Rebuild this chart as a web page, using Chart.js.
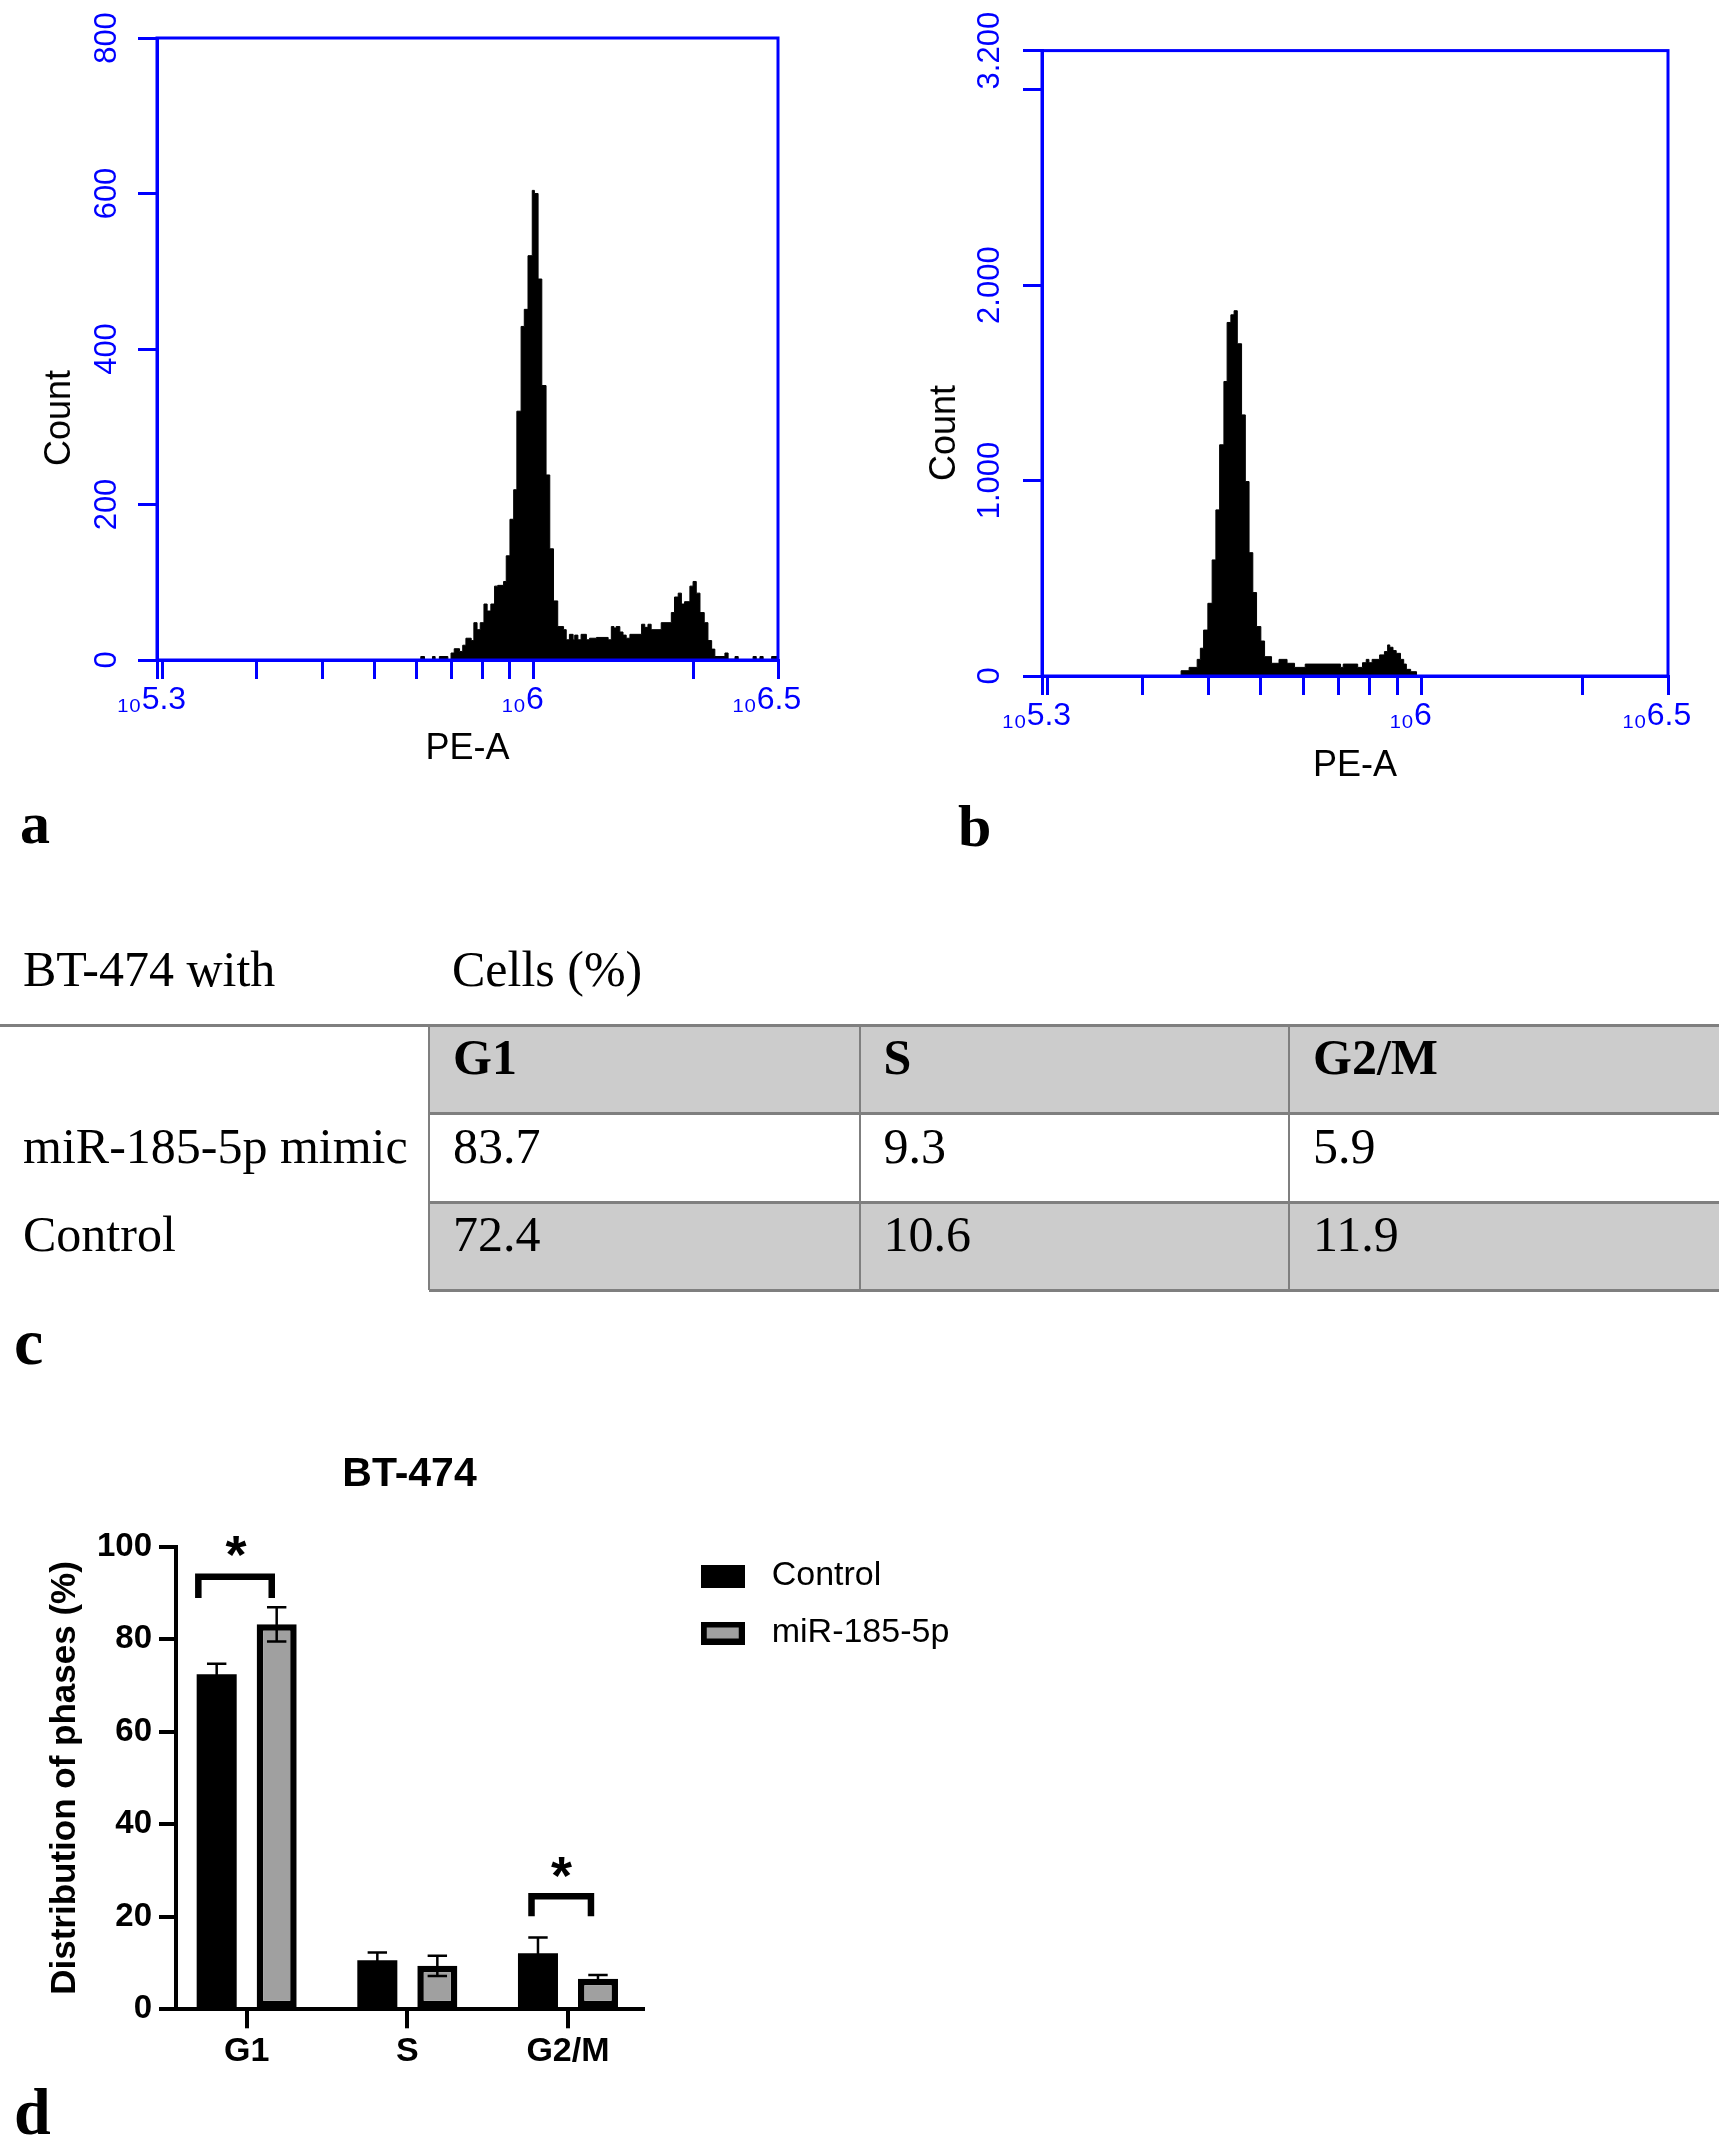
<!DOCTYPE html>
<html>
<head>
<meta charset="utf-8">
<script src="https://cdn.jsdelivr.net/npm/chart.js@4.4.1/dist/chart.umd.min.js"></script>
<style>
html,body{margin:0;padding:0;background:#fff;}
body{position:relative;width:1719px;height:2149px;overflow:hidden;font-family:'Liberation Sans',Arial,sans-serif;}
canvas{position:absolute;}
.t{position:absolute;white-space:nowrap;color:#000;}
.serif{font-family:'Liberation Serif','Times New Roman',serif;}
</style>
</head>
<body>
<canvas id="histA" width="860" height="800" style="left:0px;top:0px;width:860px;height:800px"></canvas>
<canvas id="histB" width="839" height="800" style="left:880px;top:0px;width:839px;height:800px"></canvas>
<canvas id="bars" width="1000" height="660" style="left:0px;top:1420px;width:1000px;height:660px"></canvas>
<div id="overlay"></div>
<script>
// ---------------- DATA ----------------
// Panel a: histogram, bin left edges in log10(PE-A) and counts
const histAEdges = [5.290,5.787,5.794,5.809,5.814,5.822,5.838,5.844,5.850,5.860,5.866,5.872,5.882,5.887,5.893,5.899,5.906,5.912,5.919,5.926,5.932,5.943,5.948,5.955,5.962,5.968,5.976,5.982,5.989,5.997,6.001,6.008,6.015,6.023,6.030,6.037,6.045,6.056,6.061,6.067,6.074,6.077,6.083,6.089,6.099,6.105,6.118,6.140,6.146,6.151,6.155,6.162,6.168,6.174,6.181,6.203,6.209,6.215,6.221,6.240,6.259,6.265,6.272,6.278,6.284,6.294,6.300,6.306,6.313,6.321,6.328,6.335,6.341,6.360,6.366,6.379,6.385,6.413,6.419,6.426,6.432,6.448,6.460];
const histACounts = [0,4.5,0,4.5,0,4.5,0,9,14.5,11,19,28,25,48,39,48,72,63,72,95,96,101,134,181,219,320,429,451,520,604,600,490,353,238,143,76,43,39,26,33,26,32,26,33,26,28,29,26,43,41,43,36,32,28,33,46,42,46,39,48,61,81,86,72,75,95,101,86,61,48,25,14,4.5,9,1,4.5,0,4.5,1,4.5,0,4.5,0];
// Panel b: histogram
const histBEdges = [5.290,5.550,5.565,5.580,5.586,5.592,5.600,5.608,5.615,5.622,5.630,5.636,5.643,5.649,5.655,5.663,5.670,5.677,5.684,5.691,5.699,5.706,5.719,5.733,5.748,5.762,5.782,5.848,5.853,5.880,5.889,5.896,5.901,5.907,5.921,5.930,5.936,5.940,5.946,5.952,5.960,5.966,5.971,5.979,5.990,6.460];
const histBCounts = [0,27,44,85,142,235,372,594,850,1183,1507,1809,1848,1869,1700,1336,995,631,427,253,179,99,65,85,65,44,61,44,61,44,68,85,68,85,108,125,159,147,130,116,85,61,34,22,0,0];
// Histogram axes
const histXTicks = [5.29,5.301,5.477,5.602,5.699,5.778,5.845,5.903,5.954,6.0,6.301,6.46];
const histXTickLabels = ['','\u2081\u20805.3','','','','','','','','\u2081\u20806','','\u2081\u20806.5'];
const histAYTicks = [0,200,400,600,800];
const histAYTickLabels = ['0','200','400','600','800'];
const histBYTicks = [0,1000,2000,3000,3200];
const histBYTickLabels = ['0','1.000','2.000','','3.200'];
// Panel c: table
const phases = ['G1','S','G2/M'];
const tableGroups = ['miR-185-5p mimic','Control'];
const tableMimic = ['83.7','9.3','5.9'];
const tableControl = ['72.4','10.6','11.9'];
// Panel d: bar chart
const seriesNames = ['Control','miR-185-5p'];
const controlMeans = [72.4,10.6,12.1];
const controlErr = [2.3,1.7,3.4];
const mirMeans = [83.2,9.4,6.6];
const mirErr = [3.7,2.2,0.8];
const barYTicks = [0,20,40,60,80,100];
// significance brackets (data units: x = category index, y = %)
const sigX1 = [-0.301,1.773];
const sigX2 = [0.156,2.143];
const sigY = [93.5,24.45];
const sigLegY = [88.9,20.1];
const sigStarX = [-0.067,1.960];
const sigStarY = [99.95,30.7];

// ---------------- SETUP ----------------
Chart.defaults.font.family = "'Liberation Sans', Arial, sans-serif";
Chart.defaults.color = '#000';
const BLUE = '#0000ff';

const framePlugin = {
  id:'frame',
  afterDatasetsDraw(chart, args, o){
    const {ctx, chartArea:a} = chart;
    ctx.save(); ctx.strokeStyle = o.color; ctx.lineWidth = o.width;
    ctx.strokeRect(a.left, a.top, a.right - a.left, a.bottom - a.top);
    ctx.restore();
  }
};
const rotYPlugin = {
  id:'rotY',
  afterDraw(chart, args, o){
    const s = chart.scales.y, ctx = chart.ctx;
    ctx.save(); ctx.fillStyle = o.color; ctx.font = o.font;
    ctx.textAlign = 'center'; ctx.textBaseline = 'middle';
    s.ticks.forEach((t, i) => {
      const lbl = o.labels[i]; if (!lbl) return;
      const y = s.getPixelForValue(t.value);
      ctx.save(); ctx.translate(chart.chartArea.left - o.offset, y); ctx.rotate(-Math.PI/2);
      ctx.fillText(lbl, 0, 0); ctx.restore();
    });
    ctx.restore();
  }
};

function histConfig(edges, counts, yMax, yTicks, yLabels, lay){
  return {
    type:'line',
    data:{datasets:[{
      data: edges.map((e,i)=>({x:e, y:counts[i]})),
      stepped:'before', fill:'origin',
      backgroundColor:'#000', borderColor:'#000', borderWidth:1, pointRadius:0
    }]},
    options:{
      responsive:false, animation:false, devicePixelRatio:1,
      layout:{padding:{top:lay.top, right:lay.right, left:0, bottom:0}},
      plugins:{
        legend:{display:false}, tooltip:{enabled:false},
        frame:{color:BLUE, width:3},
        rotY:{labels:yLabels, offset:lay.yLabelOffset, color:BLUE, font:"31px 'Liberation Sans', Arial, sans-serif"}
      },
      scales:{
        x:{
          type:'linear', min:5.29, max:6.46,
          afterBuildTicks: s => { s.ticks = histXTicks.map(v=>({value:v})); },
          afterFit: s => { s.height = lay.xH; },
          grid:{drawOnChartArea:false, drawTicks:true, tickLength:19, color:BLUE, lineWidth:3, offset:false},
          border:{color:BLUE, width:3},
          ticks:{autoSkip:false, maxRotation:0, minRotation:0, padding:2, color:BLUE, font:{size:32}, labelOffset:-11,
                 callback:(v,i)=>histXTickLabels[i]},
          title:{display:true, text:'PE-A', color:'#000', font:{size:36}, padding:{top:0, bottom:lay.titlePad}}
        },
        y:{
          min:0, max:yMax,
          afterBuildTicks: s => { s.ticks = yTicks.map(v=>({value:v})); },
          afterFit: s => { s.width = lay.yW; },
          grid:{drawOnChartArea:false, drawTicks:true, tickLength:19, color:BLUE, lineWidth:3},
          border:{color:BLUE, width:3},
          ticks:{display:false}
        }
      }
    },
    plugins:[framePlugin, rotYPlugin]
  };
}

new Chart(document.getElementById('histA'), histConfig(histAEdges, histACounts, 800, histAYTicks, histAYTickLabels,
  {top:38, right:82, xH:140, yW:157, titlePad:29.4, yLabelOffset:50}));
new Chart(document.getElementById('histB'), histConfig(histBEdges, histBCounts, 3200, histBYTicks, histBYTickLabels,
  {top:50.6, right:51, xH:124, yW:162, titlePad:12.4, yLabelOffset:52}));

// ---------------- BAR CHART ----------------
const barColors = ['#000000','#a0a0a0'];
function makeSwatch(fill, border){
  const c = document.createElement('canvas'); c.width = 44; c.height = 23;
  const x = c.getContext('2d');
  x.fillStyle = border; x.fillRect(0,0,44,23);
  x.fillStyle = fill; x.fillRect(6,6,32,11);
  return c;
}
const swatches = [makeSwatch(barColors[0], '#000'), makeSwatch(barColors[1], '#000')];

const errorBarPlugin = {
  id:'errbars',
  afterDatasetsDraw(chart, args, o){
    const ctx = chart.ctx, y = chart.scales.y;
    ctx.save(); ctx.strokeStyle = '#000'; ctx.lineWidth = o.width; ctx.lineCap = 'butt';
    chart.data.datasets.forEach((ds, di) => {
      const meta = chart.getDatasetMeta(di);
      meta.data.forEach((bar, i) => {
        const v = ds.data[i].y, e = ds.errors[i];
        const yt = y.getPixelForValue(v + e), yb = y.getPixelForValue(v - e), x = bar.x;
        ctx.beginPath();
        ctx.moveTo(x, yb); ctx.lineTo(x, yt);
        ctx.moveTo(x - o.cap, yt); ctx.lineTo(x + o.cap, yt);
        ctx.moveTo(x - o.cap, yb); ctx.lineTo(x + o.cap, yb);
        ctx.stroke();
      });
    });
    ctx.restore();
  }
};
const sigPlugin = {
  id:'sig',
  afterDatasetsDraw(chart, args, o){
    const ctx = chart.ctx, xs = chart.scales.x, ys = chart.scales.y;
    ctx.save(); ctx.strokeStyle = '#000'; ctx.fillStyle = '#000';
    ctx.lineWidth = o.width; ctx.lineJoin = 'miter'; ctx.lineCap = 'butt';
    sigX1.forEach((x1, i) => {
      const p1 = xs.getPixelForValue(x1), p2 = xs.getPixelForValue(sigX2[i]);
      const py = ys.getPixelForValue(sigY[i]), pl = ys.getPixelForValue(sigLegY[i]);
      ctx.beginPath(); ctx.moveTo(p1, pl); ctx.lineTo(p1, py); ctx.lineTo(p2, py); ctx.lineTo(p2, pl); ctx.stroke();
      ctx.font = o.font; ctx.textAlign = 'center'; ctx.textBaseline = 'alphabetic';
      const m = ctx.measureText('*');
      const cy = ys.getPixelForValue(sigStarY[i]);
      const base = cy + (m.actualBoundingBoxAscent - m.actualBoundingBoxDescent) / 2;
      ctx.fillText('*', xs.getPixelForValue(sigStarX[i]), base);
    });
    ctx.restore();
  }
};
const legendPlace = {
  id:'legendPlace',
  afterLayout(chart, args, o){
    const lg = chart.legend; if (!lg) return;
    const h = lg.bottom - lg.top;
    lg.left = o.left; lg.top = o.top;
    lg.right = o.left + o.width; lg.width = o.width;
    lg.bottom = o.top + h;
  }
};

new Chart(document.getElementById('bars'), {
  type:'bar',
  data:{datasets:[
    {label:seriesNames[0], data:phases.map((p,i)=>({x:i, y:controlMeans[i]})), errors:controlErr,
     backgroundColor:barColors[0], borderColor:'#000', borderWidth:0,
     categoryPercentage:0.747, barPercentage:0.667},
    {label:seriesNames[1], data:phases.map((p,i)=>({x:i, y:mirMeans[i]})), errors:mirErr,
     backgroundColor:barColors[1], borderColor:'#000', borderWidth:6.5, borderSkipped:false,
     categoryPercentage:0.747, barPercentage:0.667}
  ]},
  options:{
    responsive:false, animation:false, devicePixelRatio:1,
    layout:{padding:{top:0, left:0, bottom:0, right:97}},
    plugins:{
      title:{display:true, text:'BT-474', fullSize:false, color:'#000', font:{size:41, weight:'bold'}, padding:{top:30.4, bottom:47}},
      legend:{position:'right', align:'start', maxWidth:260,
        labels:{usePointStyle:true, pointStyleWidth:64, color:'#000', font:{size:34}, padding:23,
          generateLabels:(chart) => Chart.defaults.plugins.legend.labels.generateLabels(chart)
            .map(it => Object.assign({}, it, {pointStyle: swatches[it.datasetIndex]}))}},
      tooltip:{enabled:false},
      errbars:{width:2.5, cap:9.7},
      sig:{width:6.5, font:"bold 54px 'Liberation Sans', Arial, sans-serif"},
      legendPlace:{left:667.7, top:116, width:330}
    },
    scales:{
      x:{
        type:'linear', min:-0.44, max:2.467, offset:false,
        afterBuildTicks: s => { s.ticks = phases.map((p,i)=>({value:i})); },
        afterFit: s => { s.height = 70.7; },
        grid:{drawOnChartArea:false, drawTicks:true, tickLength:19, color:'#000', lineWidth:4, offset:false},
        border:{color:'#000', width:4},
        ticks:{autoSkip:false, maxRotation:0, minRotation:0, color:'#000', font:{size:34, weight:'bold'}, padding:3,
               callback:(v,i)=>phases[i]}
      },
      y:{
        min:0, max:100,
        afterBuildTicks: s => { s.ticks = barYTicks.map(v=>({value:v})); },
        afterFit: s => { s.width = 176; },
        grid:{drawOnChartArea:false, drawTicks:true, tickLength:17, color:'#000', lineWidth:4},
        border:{color:'#000', width:4},
        ticks:{color:'#000', font:{size:33, weight:'bold'}, padding:7},
        title:{display:true, text:'Distribution of phases (%)', color:'#000', font:{size:35, weight:'bold'}, padding:{top:44, bottom:0}}
      }
    }
  },
  plugins:[errorBarPlugin, sigPlugin, legendPlace]
});

// ---------------- HTML TEXT / TABLE ----------------
const ov = document.getElementById('overlay');
function addDiv(style, text, cls){
  const d = document.createElement('div'); d.className = 't' + (cls ? ' ' + cls : '');
  Object.assign(d.style, style); if (text !== undefined) d.textContent = text; ov.appendChild(d); return d;
}
function addTextC(text, x, cy, size, weight, cls){
  return addDiv({left:x+'px', top:(cy - size/2)+'px', fontSize:size+'px', lineHeight:size+'px', fontWeight:weight||'normal'}, text, cls);
}
function addTextB(text, x, base, size, weight, cls){
  return addDiv({left:x+'px', top:(base - 0.8375*size)+'px', fontSize:size+'px', lineHeight:size+'px', fontWeight:weight||'normal'}, text, cls);
}
function addRot(text, cx, cy, size){
  return addDiv({left:cx+'px', top:cy+'px', fontSize:size+'px', lineHeight:size+'px', transform:'translate(-50%,-50%) rotate(-90deg)'}, text);
}
function addRect(x, y, w, h, color){
  return addDiv({left:x+'px', top:y+'px', width:w+'px', height:h+'px', background:color});
}
// histogram y titles
addRot('Count', 58, 418, 36);
addRot('Count', 943, 433, 36);
// panel letters
addTextB('a', 20, 843, 60, 'bold', 'serif');
addTextB('b', 958, 846, 60, 'bold', 'serif');
addTextB('c', 14, 1364, 66, 'bold', 'serif');
addTextB('d', 14, 2134, 66, 'bold', 'serif');
// table
const colX = [429, 859.5, 1289, 1719];
const rowY = [1025, 1113.5, 1202, 1290];
const GRAY = '#cccccc', LINE = '#7f7f7f';
addTextC('BT-474 with', 23, 969, 50, 'normal', 'serif');
addTextC('Cells (%)', 452, 969, 50, 'normal', 'serif');
for (let r = 0; r < 3; r++) {
  addRect(colX[0], rowY[r], colX[3] - colX[0], rowY[r+1] - rowY[r], r === 1 ? '#ffffff' : GRAY);
}
addRect(0, rowY[0] - 1.5, 1719, 3, LINE);
for (let r = 1; r < 4; r++) addRect(colX[0], rowY[r] - 1.5, colX[3] - colX[0], 3, LINE);
for (let c = 0; c < 3; c++) addRect(colX[c] - 1, rowY[0], 2, rowY[3] - rowY[0], LINE);
const tableRows = [phases, tableMimic, tableControl];
tableRows.forEach((vals, r) => {
  vals.forEach((v, c) => addTextC(v, colX[c] + 24, rowY[r] + 32, 50, r === 0 ? 'bold' : 'normal', 'serif'));
});
tableGroups.forEach((g, i) => addTextC(g, 23, rowY[i+1] + 32, 50, 'normal', 'serif'));
</script>
</body>
</html>
